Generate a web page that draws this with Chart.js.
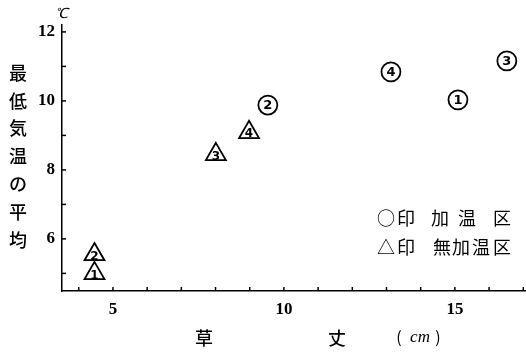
<!DOCTYPE html>
<html lang="ja">
<head>
    <meta charset="UTF-8">
    <title>草丈と最低気温の平均</title>
    <style>
        body {
            margin: 0;
            background-color: #fff;
        }
        canvas {
            display: block;
        }
    </style>
</head>
<body>
    <canvas id="plantChart" width="526" height="352"></canvas>

    <script src="https://cdn.jsdelivr.net/npm/chart.js"></script>

    <script>
        // 加温区 (○印)
        const heatedLabels = ['1', '2', '3', '4'];
        const heatedHeight = [15.09, 9.53, 16.52, 13.13];
        const heatedTemp = [10.03, 9.88, 11.16, 10.84];

        // 無加温区 (△印)
        const unheatedLabels = ['1', '2', '3', '4'];
        const unheatedHeight = [4.46, 4.46, 8.01, 8.98];
        const unheatedTemp = [5.0, 5.55, 8.45, 9.09];

        // tick labels and small tick marks
        const xTickLabels = [5, 10, 15];
        const yTickLabels = [6, 8, 10, 12];
        const xMinorTicks = [4, 5, 6, 7, 8, 9, 10, 11, 12, 13, 14, 15, 16, 17];
        const yMinorTicks = [5, 6, 7, 8, 9, 10, 11, 12];

        const yTitle = ['最', '低', '気', '温', 'の', '平', '均'];

        const cjk = '"Noto Sans CJK JP", sans-serif';

        function toPoints(xs, ys) {
            return xs.map((x, i) => ({ x: x, y: ys[i] }));
        }

        const markPlugin = {
            id: 'marks',
            afterDatasetsDraw(chart) {
                const ctx = chart.ctx;
                const xs = chart.scales.x;
                const ys = chart.scales.y;
                const area = chart.chartArea;

                // inward tick marks
                ctx.save();
                ctx.strokeStyle = '#000';
                ctx.lineWidth = 1.5;
                xMinorTicks.forEach(v => {
                    const px = xs.getPixelForValue(v);
                    ctx.beginPath();
                    ctx.moveTo(px, area.bottom);
                    ctx.lineTo(px, area.bottom - 4);
                    ctx.stroke();
                });
                yMinorTicks.forEach(v => {
                    const py = ys.getPixelForValue(v);
                    ctx.beginPath();
                    ctx.moveTo(area.left, py);
                    ctx.lineTo(area.left + 4, py);
                    ctx.stroke();
                });

                // numbers inside the markers
                ctx.fillStyle = '#000';
                ctx.textAlign = 'center';
                ctx.textBaseline = 'middle';
                ctx.font = 'bold 13px "DejaVu Sans", sans-serif';
                chart.getDatasetMeta(0).data.forEach((pt, i) => {
                    ctx.fillText(heatedLabels[i], pt.x, pt.y + 0.5);
                });
                ctx.font = 'bold 12px "DejaVu Sans", sans-serif';
                chart.getDatasetMeta(1).data.forEach((pt, i) => {
                    ctx.fillText(unheatedLabels[i], pt.x, pt.y + 2);
                });

                // axis titles
                ctx.font = '500 18px ' + cjk;
                yTitle.forEach((ch, i) => {
                    ctx.fillText(ch, 18, 73 + i * 27.8);
                });
                ctx.fillText('草', 204, 338);
                ctx.fillText('丈', 337, 338);
                ctx.font = '16px ' + cjk;
                ctx.fillText('(', 399, 337);
                ctx.fillText(')', 438, 337);
                ctx.font = 'italic 17px "Liberation Serif", serif';
                ctx.fillText('cm', 420, 338);
                ctx.font = 'italic 14px "Liberation Serif", serif';
                ctx.fillText('℃', 61, 14);

                // legend
                ctx.font = '18px ' + cjk;
                [['○', 386], ['印', 406], ['加', 440], ['温', 467], ['区', 502]].forEach(c => {
                    ctx.fillText(c[0], c[1], 218);
                });
                [['△', 386], ['印', 406], ['無', 442], ['加', 461], ['温', 481], ['区', 502]].forEach(c => {
                    ctx.fillText(c[0], c[1], 247);
                });
                ctx.restore();
            }
        };

        const ctx = document.getElementById('plantChart').getContext('2d');
        const chart = new Chart(ctx, {
            type: 'scatter',
            data: {
                datasets: [{
                    label: '加温区',
                    data: toPoints(heatedHeight, heatedTemp),
                    pointStyle: 'circle',
                    pointRadius: 9.5,
                    pointBackgroundColor: '#fff',
                    pointBorderColor: '#000',
                    pointBorderWidth: 1.8
                }, {
                    label: '無加温区',
                    data: toPoints(unheatedHeight, unheatedTemp),
                    pointStyle: 'triangle',
                    pointRadius: 11.5,
                    pointBackgroundColor: '#fff',
                    pointBorderColor: '#000',
                    pointBorderWidth: 1.8
                }]
            },
            plugins: [markPlugin],
            options: {
                responsive: false,
                animation: false,
                devicePixelRatio: 1,
                layout: {
                    autoPadding: false,
                    padding: { top: 25, right: 0, left: 0, bottom: 0 }
                },
                plugins: {
                    legend: { display: false },
                    tooltip: { enabled: false }
                },
                scales: {
                    x: {
                        type: 'linear',
                        min: 3.51,
                        max: 17.08,
                        afterFit: scale => { scale.height = 61; },
                        afterBuildTicks: scale => {
                            scale.ticks = xTickLabels.map(v => ({ value: v }));
                        },
                        grid: { display: false, drawTicks: false },
                        border: { display: true, color: '#000', width: 1.5 },
                        ticks: {
                            color: '#000',
                            padding: 8,
                            maxRotation: 0,
                            font: { family: '"Liberation Serif", serif', size: 17, weight: 'bold' }
                        }
                    },
                    y: {
                        type: 'linear',
                        min: 4.49,
                        max: 12.2,
                        afterFit: scale => { scale.width = 62; },
                        afterBuildTicks: scale => {
                            scale.ticks = yTickLabels.map(v => ({ value: v }));
                        },
                        grid: { display: false, drawTicks: false },
                        border: { display: true, color: '#000', width: 1.5 },
                        ticks: {
                            color: '#000',
                            padding: 7,
                            font: { family: '"Liberation Serif", serif', size: 17, weight: 'bold' }
                        }
                    }
                }
            }
        });
    </script>
</body>
</html>
